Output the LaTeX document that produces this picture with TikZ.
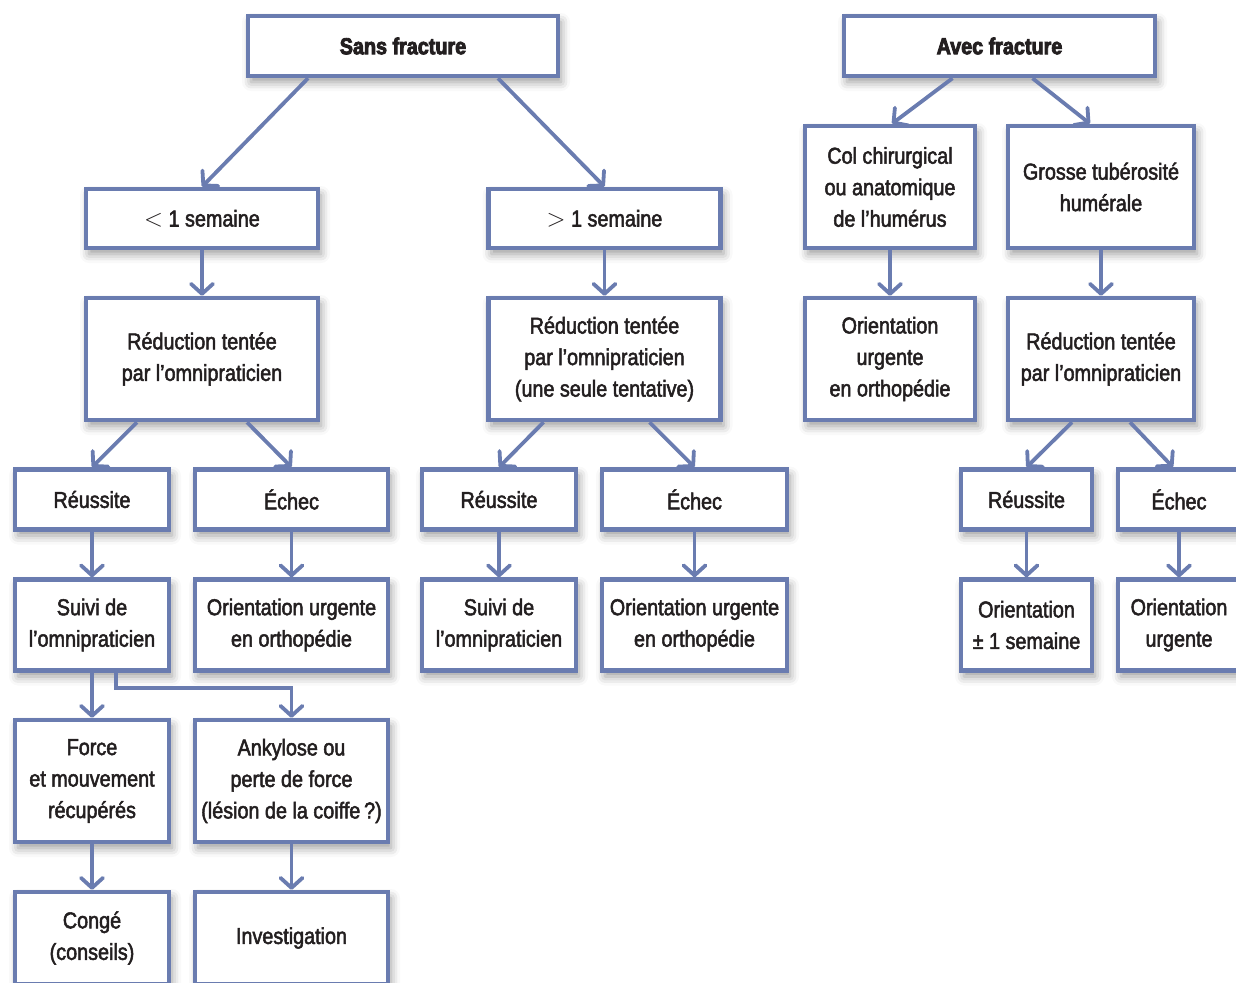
\documentclass[tikz,border=0pt]{standalone}
\usepackage{fontspec}
\setmainfont[FakeStretch=0.86, FakeBold=2.2, BoldFeatures={FakeBold=3.6}]{Liberation Sans}
\usetikzlibrary{arrows.meta,shadows.blur}
\definecolor{slateblue}{RGB}{106, 124, 176}
\definecolor{inkblack}{RGB}{35, 31, 32}
\tikzset{
    flowbox/.style={draw=slateblue, line width=4.5pt, fill=white, text=inkblack, align=center,
        font=\fontsize{23}{31.5}\selectfont, inner sep=0pt,
        blur shadow={shadow xshift=3pt, shadow yshift=-6pt, shadow blur radius=9pt, shadow opacity=40}},
    flowarrow/.style={draw=slateblue, line width=3.8pt,
        -{Straight Barb[length=10pt, width=22pt, line width=3.8pt, round]}}
}

\begin{document}
\begin{tikzpicture}[x=1pt, y=-1pt]
            \useasboundingbox (0,0) rectangle (1236,982);
            % top row
            \node[flowbox, minimum width=310, minimum height=60] (sans)  at ( 403.0,  46.0) {\textbf{Sans fracture}};
            \node[flowbox, minimum width=311, minimum height=60] (avec)  at ( 999.5,  46.0) {\textbf{Avec fracture}};
            % second row
            \node[flowbox, minimum width=232, minimum height=59] (lt)    at ( 202.0, 218.5) {$<$ 1 semaine};
            \node[flowbox, minimum width=232, minimum height=59] (gt)    at ( 604.5, 218.5) {$>$ 1 semaine};
            \node[flowbox, minimum width=170, minimum height=122] (col)  at ( 890.0, 187.0) {Col chirurgical\\ou anatomique\\de l'humérus};
            \node[flowbox, minimum width=186, minimum height=122] (grosse) at (1101.0, 187.0) {Grosse tubérosité\\humérale};
            % third row
            \node[flowbox, minimum width=232, minimum height=122] (redA) at ( 202.0, 359.0) {Réduction tentée\\par l'omnipraticien};
            \node[flowbox, minimum width=232, minimum height=122] (redB) at ( 604.5, 359.0) {Réduction tentée\\par l'omnipraticien\\(une seule tentative)};
            \node[flowbox, minimum width=170, minimum height=122] (orthoC) at ( 890.0, 359.0) {Orientation\\urgente\\en orthopédie};
            \node[flowbox, minimum width=186, minimum height=122] (redC) at (1101.0, 359.0) {Réduction tentée\\par l'omnipraticien};
            % outcomes
            \node[flowbox, minimum width=154, minimum height=60] (reuA)  at (  92.0, 499.5) {Réussite};
            \node[flowbox, minimum width=193, minimum height=60] (echA)  at ( 291.5, 499.5) {Échec};
            \node[flowbox, minimum width=154, minimum height=60] (reuB)  at ( 499.0, 499.5) {Réussite};
            \node[flowbox, minimum width=185, minimum height=60] (echB)  at ( 694.5, 499.5) {Échec};
            \node[flowbox, minimum width=131, minimum height=60] (reuC)  at (1026.5, 499.5) {Réussite};
            \node[flowbox, minimum width=122, minimum height=60] (echC)  at (1179.0, 499.5) {Échec};
            % follow-up
            \node[flowbox, minimum width=154, minimum height=91] (suiviA)  at (  92.0, 625.0) {Suivi de\\l'omnipraticien};
            \node[flowbox, minimum width=193, minimum height=91] (orientA) at ( 291.5, 625.0) {Orientation urgente\\en orthopédie};
            \node[flowbox, minimum width=154, minimum height=91] (suiviB)  at ( 499.0, 625.0) {Suivi de\\l'omnipraticien};
            \node[flowbox, minimum width=185, minimum height=91] (orientB) at ( 694.5, 625.0) {Orientation urgente\\en orthopédie};
            \node[flowbox, minimum width=131, minimum height=91] (orientC) at (1026.5, 625.0) {Orientation\\± 1 semaine};
            \node[flowbox, minimum width=122, minimum height=91] (urgC)    at (1179.0, 625.0) {Orientation\\urgente};
            % bottom rows
            \node[flowbox, minimum width=154, minimum height=122] (force)    at (  92.0, 781.0) {Force\\et mouvement\\récupérés};
            \node[flowbox, minimum width=193, minimum height=122] (ankylose) at ( 291.5, 781.0) {Ankylose ou\\perte de force\\(lésion de la coiffe\,?)};
            \node[flowbox, minimum width=154, minimum height=92] (conge)     at (  92.0, 938.0) {Congé\\(conseils)};
            \node[flowbox, minimum width=193, minimum height=92] (invest)    at ( 291.5, 938.0) {Investigation};
            % connectors
            \draw[flowarrow] ([xshift=-95pt]sans.south) -- (lt.north);
            \draw[flowarrow] ([xshift=95pt]sans.south)  -- (gt.north);
            \draw[flowarrow] ([xshift=-47pt]avec.south) -- ([xshift=2pt]col.north);
            \draw[flowarrow] ([xshift=33pt]avec.south)  -- ([xshift=-11pt]grosse.north);
            \draw[flowarrow] (lt) -- (redA);
            \draw[flowarrow] (gt) -- (redB);
            \draw[flowarrow] (col) -- (orthoC);
            \draw[flowarrow] (grosse) -- (redC);
            \draw[flowarrow] ([xshift=-65pt]redA.south) -- (reuA.north);
            \draw[flowarrow] ([xshift=45pt]redA.south)  -- (echA.north);
            \draw[flowarrow] ([xshift=-61pt]redB.south) -- (reuB.north);
            \draw[flowarrow] ([xshift=45pt]redB.south)  -- (echB.north);
            \draw[flowarrow] ([xshift=-29pt]redC.south) -- (reuC.north);
            \draw[flowarrow] ([xshift=29pt]redC.south)  -- ([xshift=-6pt]echC.north);
            \draw[flowarrow] (reuA) -- (suiviA);
            \draw[flowarrow] (echA) -- (orientA);
            \draw[flowarrow] (reuB) -- (suiviB);
            \draw[flowarrow] (echB) -- (orientB);
            \draw[flowarrow] (reuC) -- (orientC);
            \draw[flowarrow] (echC) -- (urgC);
            \draw[flowarrow] (suiviA) -- (force);
            \draw[flowarrow] ([xshift=24pt]suiviA.south) -- ++(0,15) -| (ankylose.north);
            \draw[flowarrow] (force) -- (conge);
            \draw[flowarrow] (ankylose) -- (invest);
        \end{tikzpicture}
\end{document}
